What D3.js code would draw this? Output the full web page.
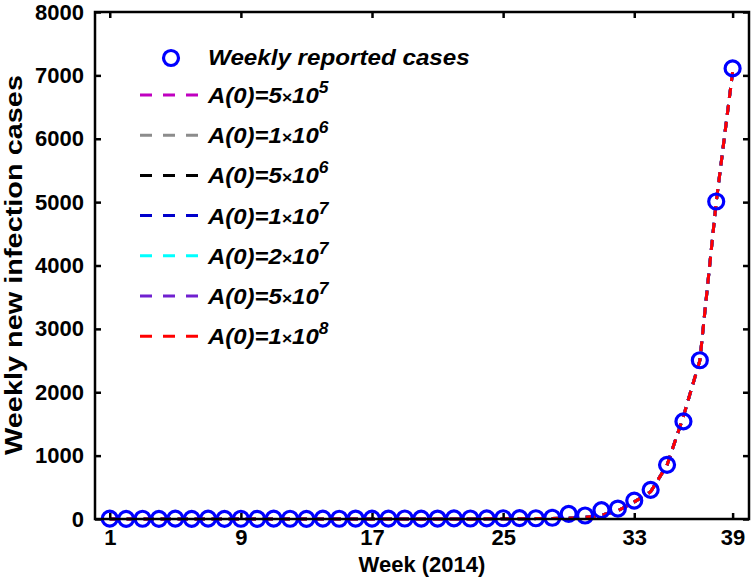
<!DOCTYPE html>
<html>
<head>
<meta charset="utf-8">
<script src="https://cdn.jsdelivr.net/npm/d3@7"></script>
<style>
  body { margin: 0; background: #fff; }
  text { font-family: "Liberation Sans", Arial, sans-serif; font-weight: bold; }
</style>
</head>
<body>
<svg id="chart"></svg>
<script>
// weekly reported cases, weeks 1..39 of 2014
const weeks = d3.range(1, 40);
const reported = [
  5, 3, 4, 2, 6, 3, 5, 2, 4, 3,
  6, 4, 3, 5, 4, 7, 5, 6, 8, 6,
  7, 9, 8, 10, 12, 14, 12, 20, 80, 55,
  140, 165, 290, 460, 855, 1540, 2505, 5010, 7110
];
// model fit (all initial conditions give the same curve)
const fitted = [
  0, 0, 0, 0, 0, 0, 0, 0, 0, 0,
  0, 0, 0, 0, 0, 0, 0, 0, 0, 0,
  0, 1, 1, 2, 3, 4, 6, 8, 12, 25,
  60, 130, 270, 430, 850, 1620, 2500, 5000, 7050
];
const seriesLabels = [
  ["5", "5"], ["1", "6"], ["5", "6"], ["1", "7"],
  ["2", "7"], ["5", "7"], ["1", "8"]
];
const seriesColors = ["#c000c0", "#8c8c8c", "#000000", "#0000cc", "#00ffff", "#7020d0", "#ff0000"];
const xTicks = [1, 9, 17, 25, 33, 39];
const yTicks = [0, 1000, 2000, 3000, 4000, 5000, 6000, 7000, 8000];

const W = 755, H = 583;
const margin = { top: 12, right: 6, bottom: 64, left: 95 };
const width = W - margin.left - margin.right,
      height = H - margin.top - margin.bottom;

const svg = d3.select("#chart").attr("width", W).attr("height", H);
const g = svg.append("g").attr("transform", "translate(" + margin.left + "," + margin.top + ")");

const x = d3.scaleLinear().domain([0.1, 40]).range([0, width]);
const y = d3.scaleLinear().domain([0, 8000]).range([height, 0]);

// fit curves
const line = d3.line().x((d, i) => x(weeks[i])).y(d => y(d));
seriesColors.forEach(c => {
  g.append("path")
    .attr("d", line(fitted))
    .attr("fill", "none")
    .attr("stroke", c)
    .attr("stroke-width", 3)
    .attr("stroke-dasharray", "10,7");
});

// reported points
g.selectAll("circle.pt")
  .data(reported)
  .enter().append("circle")
  .attr("class", "pt")
  .attr("cx", (d, i) => x(weeks[i]))
  .attr("cy", d => y(d))
  .attr("r", 7.5)
  .attr("fill", "none")
  .attr("stroke", "#0000ff")
  .attr("stroke-width", 3.2);

// axes (inward ticks, mirrored)
const xAxis = d3.axisBottom(x).tickValues(xTicks).tickSize(-6).tickPadding(10);
const yAxis = d3.axisLeft(y).tickValues(yTicks).tickSize(-6).tickPadding(11).tickFormat(d3.format("d"));
const gx = g.append("g").attr("transform", "translate(0," + height + ")").call(xAxis);
const gy = g.append("g").call(yAxis);
g.append("g").call(d3.axisTop(x).tickValues(xTicks).tickSize(-6).tickFormat(""));
g.append("g").attr("transform", "translate(" + width + ",0)")
  .call(d3.axisRight(y).tickValues(yTicks).tickSize(-6).tickFormat(""));
g.selectAll(".domain").remove();
g.selectAll(".tick line").attr("stroke", "#000").attr("stroke-width", 2.5);
[gx, gy].forEach(a => a.selectAll("text")
  .attr("fill", "#000").style("font-size", "22px").style("font-weight", "bold"));
g.append("rect").attr("width", width).attr("height", height)
  .attr("fill", "none").attr("stroke", "#000").attr("stroke-width", 2.5);

// axis titles
svg.append("text").attr("x", 422).attr("y", 572).attr("text-anchor", "middle")
  .style("font-size", "22px").text("Week (2014)");
svg.append("text").attr("transform", "translate(22,265) rotate(-90)")
  .attr("text-anchor", "middle").style("font-size", "23px")
  .attr("textLength", 380).attr("lengthAdjust", "spacingAndGlyphs")
  .text("Weekly new infection cases");

// legend
const leg = svg.append("g");
leg.append("circle").attr("cx", 171).attr("cy", 58).attr("r", 7.5)
  .attr("fill", "none").attr("stroke", "#0000ff").attr("stroke-width", 3.2);
leg.append("text").attr("transform", "translate(208,65) scale(1.1,1)")
  .style("font-size", "22px").style("font-style", "italic").text("Weekly reported cases");
seriesLabels.forEach((s, i) => {
  const yy = 95 + i * 40.2;
  leg.append("line").attr("x1", 140).attr("x2", 202).attr("y1", yy).attr("y2", yy)
    .attr("stroke", seriesColors[i]).attr("stroke-width", 3).attr("stroke-dasharray", "12,11");
  const t = leg.append("text").attr("transform", "translate(208," + (yy + 8) + ") scale(1.09,1)")
    .style("font-size", "22px").style("font-style", "italic");
  t.append("tspan").text("A(0)=" + s[0]);
  t.append("tspan").style("font-size", "16px").style("font-style", "normal").text("\u00d7");
  t.append("tspan").text("10");
  t.append("tspan").attr("dy", -10).style("font-size", "16px").text(s[1]);
});
</script>
</body>
</html>
